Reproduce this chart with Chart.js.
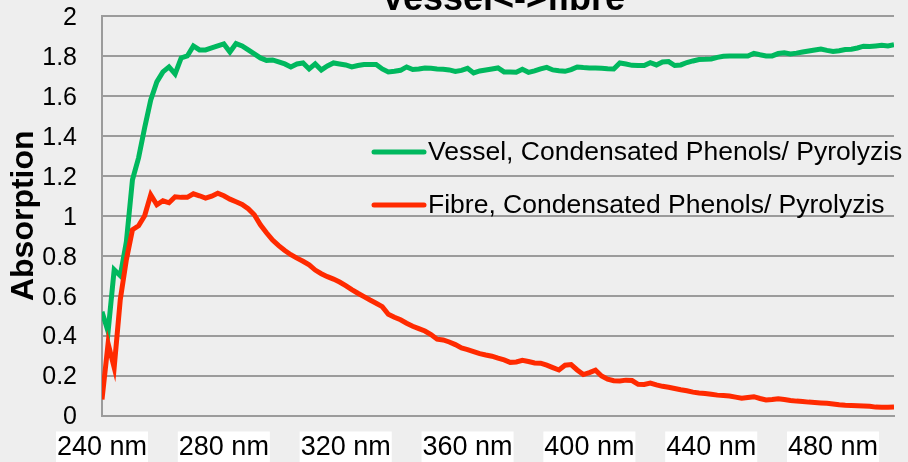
<!DOCTYPE html>
<html>
<head>
<meta charset="utf-8">
<script src="https://cdn.jsdelivr.net/npm/chart.js@4.4.1/dist/chart.umd.min.js"></script>
<style>
  html, body { margin: 0; padding: 0; background: #eeeeee; }
  #wrap { width: 908px; height: 462px; }
</style>
</head>
<body>
<div id="wrap"><canvas id="chart" width="908" height="462"></canvas></div>
<script>
// Wavelengths (nm) of the measured spectra
const wavelengths = [
  240,242,244,246,248,250,252,254,256,258,
  260,262,264,266,268,270,272,274,276,278,
  280,282,284,286,288,290,292,294,296,298,
  300,302,304,306,308,310,312,314,316,318,
  320,322,324,326,328,330,332,334,336,338,
  340,342,344,346,348,350,352,354,356,358,
  360,362,364,366,368,370,372,374,376,378,
  380,382,384,386,388,390,392,394,396,398,
  400,402,404,406,408,410,412,414,416,418,
  420,422,424,426,428,430,432,434,436,438,
  440,442,444,446,448,450,452,454,456,458,
  460,462,464,466,468,470,472,474,476,478,
  480,482,484,486,488,490,492,494,496,498,
  500
];

// Absorption, vessel
const vessel = [
  0.52,0.42,0.73,0.70,0.87,1.18,1.29,1.44,1.58,1.67,
  1.72,1.745,1.71,1.79,1.80,1.85,1.83,1.83,1.84,1.85,
  1.86,1.82,1.862,1.85,1.83,1.81,1.79,1.778,1.78,1.77,
  1.76,1.745,1.76,1.765,1.735,1.76,1.73,1.75,1.765,1.76,
  1.755,1.745,1.752,1.757,1.757,1.757,1.735,1.72,1.723,1.728,
  1.745,1.732,1.735,1.74,1.738,1.735,1.733,1.73,1.722,1.728,
  1.738,1.715,1.725,1.73,1.735,1.74,1.72,1.72,1.718,1.733,
  1.718,1.725,1.735,1.743,1.73,1.726,1.723,1.732,1.745,1.742,
  1.74,1.74,1.738,1.736,1.735,1.765,1.76,1.753,1.752,1.752,
  1.766,1.755,1.77,1.772,1.752,1.755,1.767,1.775,1.782,1.783,
  1.785,1.793,1.798,1.80,1.80,1.80,1.80,1.813,1.806,1.80,
  1.80,1.812,1.816,1.81,1.814,1.82,1.825,1.83,1.835,1.828,
  1.822,1.826,1.832,1.834,1.84,1.849,1.847,1.85,1.853,1.85,
  1.856
];

// Absorption, fibre
const fibre = [
  0.08,0.36,0.24,0.58,0.78,0.93,0.95,1.00,1.105,1.055,
  1.075,1.065,1.095,1.092,1.092,1.11,1.10,1.088,1.098,1.113,
  1.10,1.083,1.07,1.057,1.035,1.005,0.955,0.915,0.878,0.85,
  0.826,0.805,0.788,0.772,0.754,0.728,0.71,0.695,0.683,0.668,
  0.65,0.63,0.612,0.595,0.578,0.562,0.545,0.507,0.492,0.479,
  0.462,0.447,0.435,0.423,0.405,0.382,0.378,0.368,0.355,0.338,
  0.33,0.32,0.31,0.303,0.297,0.287,0.278,0.266,0.268,0.276,
  0.27,0.263,0.262,0.252,0.24,0.228,0.252,0.255,0.228,0.205,
  0.215,0.227,0.198,0.182,0.174,0.173,0.177,0.175,0.156,0.155,
  0.162,0.153,0.146,0.141,0.135,0.129,0.124,0.117,0.113,0.11,
  0.106,0.102,0.1,0.098,0.092,0.086,0.09,0.094,0.085,0.078,
  0.08,0.084,0.08,0.075,0.072,0.07,0.067,0.065,0.063,0.061,
  0.058,0.054,0.051,0.05,0.049,0.048,0.046,0.042,0.041,0.041,
  0.042
];

const seriesNames = [
  'Vessel, Condensated Phenols/ Pyrolyzis',
  'Fibre, Condensated Phenols/ Pyrolyzis'
];
const xTickValues = [240, 280, 320, 360, 400, 440, 480];
const xUnit = ' nm';
const chartTitle = 'Vessel<->fibre';
const yTitle = 'Absorption';

const FONT = '"Liberation Sans", Arial, Helvetica, sans-serif';
const GREEN = '#00b85e';
const RED = '#ff2a00';
const GRID = '#9b9b9b';

const toPoints = ys => wavelengths.map((w, i) => ({ x: w, y: ys[i] }));

// Grey page background behind everything
const backgroundPlugin = {
  id: 'pageBackground',
  beforeDraw(chart) {
    const ctx = chart.ctx;
    ctx.save();
    ctx.fillStyle = '#eeeeee';
    ctx.fillRect(0, 0, chart.width, chart.height);
    ctx.restore();
  }
};

// Heading at the top edge of the canvas
const headingPlugin = {
  id: 'heading',
  afterDraw(chart) {
    const ctx = chart.ctx;
    ctx.save();
    ctx.font = 'bold 36px ' + FONT;
    ctx.fillStyle = '#000';
    ctx.textAlign = 'center';
    ctx.textBaseline = 'alphabetic';
    ctx.fillText(chartTitle, 503, 10);
    ctx.restore();
  }
};

// Legend drawn inside the plot area, right side
const insideLegendPlugin = {
  id: 'insideLegend',
  afterDatasetsDraw(chart) {
    const ctx = chart.ctx;
    const rows = [152, 205];
    ctx.save();
    chart.data.datasets.forEach((ds, i) => {
      const y = rows[i];
      ctx.strokeStyle = ds.borderColor;
      ctx.lineWidth = 5;
      ctx.lineCap = 'round';
      ctx.beginPath();
      ctx.moveTo(374, y);
      ctx.lineTo(424, y);
      ctx.stroke();
      ctx.font = '26.5px ' + FONT;
      ctx.fillStyle = '#000';
      ctx.textAlign = 'left';
      ctx.textBaseline = 'middle';
      ctx.fillText(ds.label, 428, y + 1);
    });
    ctx.restore();
  }
};

const fmtY = v => String(Number(v.toFixed(1)));

new Chart(document.getElementById('chart'), {
  type: 'line',
  data: {
    datasets: [
      {
        label: seriesNames[0],
        data: toPoints(vessel),
        borderColor: GREEN,
        backgroundColor: GREEN,
        borderWidth: 5,
        pointRadius: 0,
        tension: 0,
        order: 1
      },
      {
        label: seriesNames[1],
        data: toPoints(fibre),
        borderColor: RED,
        backgroundColor: RED,
        borderWidth: 5,
        pointRadius: 0,
        tension: 0,
        order: 0
      }
    ]
  },
  options: {
    responsive: false,
    animation: false,
    events: [],
    layout: { padding: { top: 16, right: 14, left: 0, bottom: 0 } },
    plugins: {
      legend: { display: false },
      title: { display: false },
      tooltip: { enabled: false }
    },
    scales: {
      x: {
        type: 'linear',
        min: 240,
        max: 500,
        afterBuildTicks(scale) {
          scale.ticks = xTickValues.map(v => ({ value: v }));
        },
        afterFit(scale) { scale.height = 46.5; },
        grid: { display: false, drawTicks: false },
        border: { display: true, color: GRID, width: 2 },
        ticks: {
          padding: 16,
          color: '#000',
          font: { family: FONT, size: 27 },
          callback: v => v + xUnit,
          showLabelBackdrop: true,
          backdropColor: '#ffffff',
          backdropPadding: { top: 0, bottom: 0, left: 1, right: 1 },
          maxRotation: 0,
          autoSkip: false
        }
      },
      y: {
        min: 0,
        max: 2,
        afterFit(scale) { scale.width = 102; },
        grid: {
          color: GRID,
          lineWidth: 2,
          drawTicks: true,
          tickLength: 25,
          tickColor: 'rgba(0,0,0,0)'
        },
        border: { display: true, color: GRID, width: 2 },
        ticks: {
          stepSize: 0.2,
          padding: 0,
          labelOffset: 2,
          color: '#000',
          font: { family: FONT, size: 25 },
          callback: v => fmtY(v)
        },
        title: {
          display: true,
          text: yTitle,
          color: '#000',
          font: { family: FONT, size: 32, weight: 'bold' },
          padding: { top: 5, bottom: 0 }
        }
      }
    }
  },
  plugins: [backgroundPlugin, headingPlugin, insideLegendPlugin]
});
</script>
</body>
</html>
